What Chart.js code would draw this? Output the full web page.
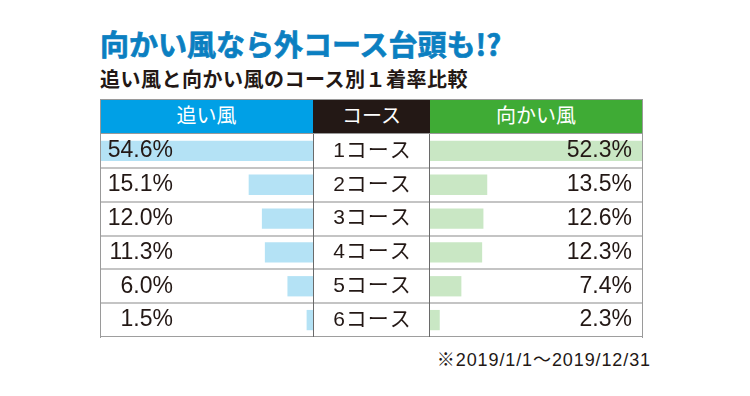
<!DOCTYPE html>
<html>
<head>
<meta charset="utf-8">
<script src="https://cdn.jsdelivr.net/npm/chart.js@4"></script>
<style>
  body { margin: 0; background: #fff; width: 750px; height: 396px; position: relative; overflow: hidden; }
  .abs { position: absolute; }
  #title { left: 100px; top: 29px; font: bold 29px 'Noto Sans CJK JP'; line-height: 29px; color: #0b7fc1; white-space: nowrap; -webkit-text-stroke: 0.7px #0b7fc1; }
  #subtitle { left: 100px; top: 69px; font: bold 20px 'Noto Sans CJK JP'; line-height: 20px; color: #231815; letter-spacing: 0.5px; white-space: nowrap; }
  .head { top: 100px; height: 33px; line-height: 33px; text-align: center; color: #fff; font: 20px 'Noto Sans CJK JP'; }
  #note { right: 99px; top: 345px; font: 18px 'Liberation Sans', 'Noto Sans CJK JP'; color: #231815; letter-spacing: 0.9px; white-space: nowrap; }
  #wrap { left: 100px; top: 130px; width: 543px; height: 211px; }
</style>
</head>
<body>
<div id="title" class="abs">向かい風なら外コース台頭も!?</div>
<div id="subtitle" class="abs">追い風と向かい風のコース別１着率比較</div>

<div class="abs" style="left:100px;top:99px;width:543px;height:1px;background:#9a9a9a"></div>
<div id="h0" class="abs head" style="left:100px;width:213px;background:#00a0e6"></div>
<div id="h1" class="abs head" style="left:313px;width:117px;background:#231815"></div>
<div id="h2" class="abs head" style="left:430px;width:212px;background:#3fab35"></div>
<div class="abs" style="left:100px;top:133px;width:542px;height:1px;background:rgba(0,0,0,0.4)"></div>

<div id="wrap" class="abs"><canvas id="myChart"></canvas></div>

<div class="abs" style="left:100px;top:99px;width:1px;height:239px;background:#9a9a9a"></div>
<div class="abs" style="left:642px;top:99px;width:1px;height:239px;background:#9a9a9a"></div>

<div id="note" class="abs">※2019/1/1～2019/12/31</div>

<script>
var columnTitles = ['追い風', 'コース', '向かい風'];
var courses = ['1コース', '2コース', '3コース', '4コース', '5コース', '6コース'];
var tailwind = [54.6, 15.1, 12.0, 11.3, 6.0, 1.5];   // 追い風 1着率(%)
var headwind = [52.3, 13.5, 12.6, 12.3, 7.4, 2.3];   // 向かい風 1着率(%)
var axisMax = 50;

for (var i = 0; i < columnTitles.length; i++) {
    document.getElementById('h' + i).innerText = columnTitles[i];
}

// clip each side's bars to its own column, then write the table texts
var tablePlugin = {
    id: 'tablePlugin',
    beforeDatasetDraw: function(chart, args) {
        var sc = args.meta.xScale;
        var a = chart.chartArea;
        chart.ctx.save();
        chart.ctx.beginPath();
        chart.ctx.rect(sc.left, a.top, sc.right - sc.left, a.bottom - a.top);
        chart.ctx.clip();
    },
    afterDatasetDraw: function(chart) {
        chart.ctx.restore();
    },
    afterDraw: function(chart) {
        var ctx = chart.ctx;
        var xl = chart.scales.xl, xm = chart.scales.xm, xr = chart.scales.xr, y = chart.scales.y;
        var a = chart.chartArea;
        ctx.save();
        ctx.strokeStyle = '#6a6a6a';
        ctx.lineWidth = 1;
        ctx.beginPath();
        ctx.moveTo(Math.round(xm.left) + 0.5, a.top);
        ctx.lineTo(Math.round(xm.left) + 0.5, a.bottom);
        ctx.moveTo(Math.round(xm.right) - 0.5, a.top);
        ctx.lineTo(Math.round(xm.right) - 0.5, a.bottom);
        ctx.stroke();

        ctx.fillStyle = '#231815';
        ctx.textBaseline = 'middle';
        for (var j = 0; j < courses.length; j++) {
            var yy = y.getPixelForValue(j);
            ctx.font = "23px 'Liberation Sans'";
            ctx.textAlign = 'right';
            ctx.letterSpacing = '0px';
            ctx.fillText(tailwind[j].toFixed(1) + '%', xl.left + 73, yy);
            ctx.fillText(headwind[j].toFixed(1) + '%', xr.right - 10, yy);
            ctx.font = "21px 'Liberation Sans', 'Noto Sans CJK JP'";
            ctx.letterSpacing = '1px';
            ctx.textAlign = 'center';
            ctx.fillText(courses[j], (xm.left + xm.right) / 2 + 1, yy);
        }
        ctx.restore();
    }
};

var ctx = document.getElementById('myChart').getContext('2d');
var chart = new Chart(ctx, {
    type: 'bar',
    data: {
        labels: courses,
        datasets: [{
            label: '追い風',
            data: tailwind,
            xAxisID: 'xl',
            backgroundColor: '#b4e2f5',
            grouped: false
        }, {
            label: '向かい風',
            data: headwind,
            xAxisID: 'xr',
            backgroundColor: '#c9e7c4',
            grouped: false
        }]
    },
    options: {
        indexAxis: 'y',
        responsive: true,
        maintainAspectRatio: false,
        animation: false,
        layout: { padding: { top: 4, bottom: 4, left: 0, right: 1 } },
        datasets: { bar: { barPercentage: 0.6, categoryPercentage: 1, borderWidth: 0 } },
        scales: {
            xl: { type: 'linear', position: 'bottom', stack: 'cols', stackWeight: 213, reverse: true, min: 0, max: axisMax, display: false },
            xm: { type: 'linear', position: 'bottom', stack: 'cols', stackWeight: 117, min: 0, max: 1, display: false },
            xr: { type: 'linear', position: 'bottom', stack: 'cols', stackWeight: 212, min: 0, max: axisMax, display: false },
            y: {
                type: 'category',
                border: { display: false },
                ticks: { display: false },
                grid: {
                    offset: true,
                    drawTicks: false,
                    color: function(c) {
                        if (c.index === 0) return 'rgba(0,0,0,0)';
                        if (c.index === undefined) return '#9e9e9e';
                        return '#c4c4c4';
                    },
                    lineWidth: function(c) { return c.index === undefined ? 1 : 2; }
                }
            }
        },
        plugins: { legend: { display: false }, tooltip: { enabled: false } }
    },
    plugins: [tablePlugin]
});
</script>
</body>
</html>
